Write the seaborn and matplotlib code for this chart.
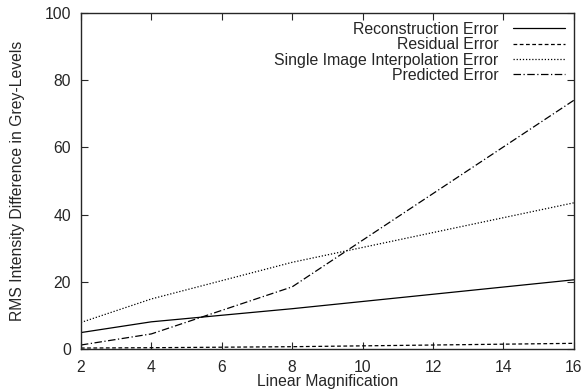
import matplotlib
matplotlib.use("Agg")
import matplotlib.pyplot as plt
import pandas as pd
import seaborn as sns

# valores
magnificacao = [2, 4, 8, 16]
erro_reconstrucao = [4.9, 8.1, 12.0, 20.6]
erro_residual = [0.3, 0.4, 0.7, 1.7]
erro_interpolacao = [7.9, 14.9, 25.8, 43.5]
erro_previsto = [1.2, 4.5, 18.5, 74.0]

nomes = ["Reconstruction Error", "Residual Error",
         "Single Image Interpolation Error", "Predicted Error"]
series = [erro_reconstrucao, erro_residual, erro_interpolacao, erro_previsto]
estilos = ["-", (0, (3, 2)), (0, (1, 1.5)), (0, (6, 2, 1, 2))]

sns.set_style("ticks")
plt.rcParams["font.family"] = ["Liberation Sans", "DejaVu Sans"]

fig = plt.figure(figsize=(5.82, 3.9), dpi=100)
ax = fig.add_axes([0.139, 0.105, 0.847, 0.862])

for nome, valores, estilo in zip(nomes, series, estilos):
    df = pd.DataFrame({"x": magnificacao, "y": valores})
    sns.lineplot(data=df, x="x", y="y", ax=ax, color="black",
                 linewidth=0.9, linestyle=estilo, label=nome)

ax.set_xlim(2, 16)
ax.set_ylim(0, 100)
ax.set_xticks(range(2, 17, 2))
ax.set_yticks(range(0, 101, 20))
ax.tick_params(direction="in", top=True, right=True, labelsize=11.3,
               length=5, width=0.8)
ax.tick_params(axis="x", pad=8)
ax.tick_params(axis="y", pad=7)
for s in ax.spines.values():
    s.set_linewidth(1.0)
    s.set_visible(True)

ax.set_xlabel("Linear Magnification", fontsize=11.3, labelpad=-1)
ax.set_ylabel("RMS Intensity Difference in Grey-Levels", fontsize=11.3, labelpad=14)

leg = ax.legend(loc="upper right", frameon=False, markerfirst=False,
                fontsize=11.4, handlelength=3.3, labelspacing=0.03,
                borderaxespad=0.2, borderpad=0.35, handletextpad=0.9)
for linha in leg.get_lines():
    linha.set_linewidth(0.9)

fig.savefig("out.png", dpi=100)
